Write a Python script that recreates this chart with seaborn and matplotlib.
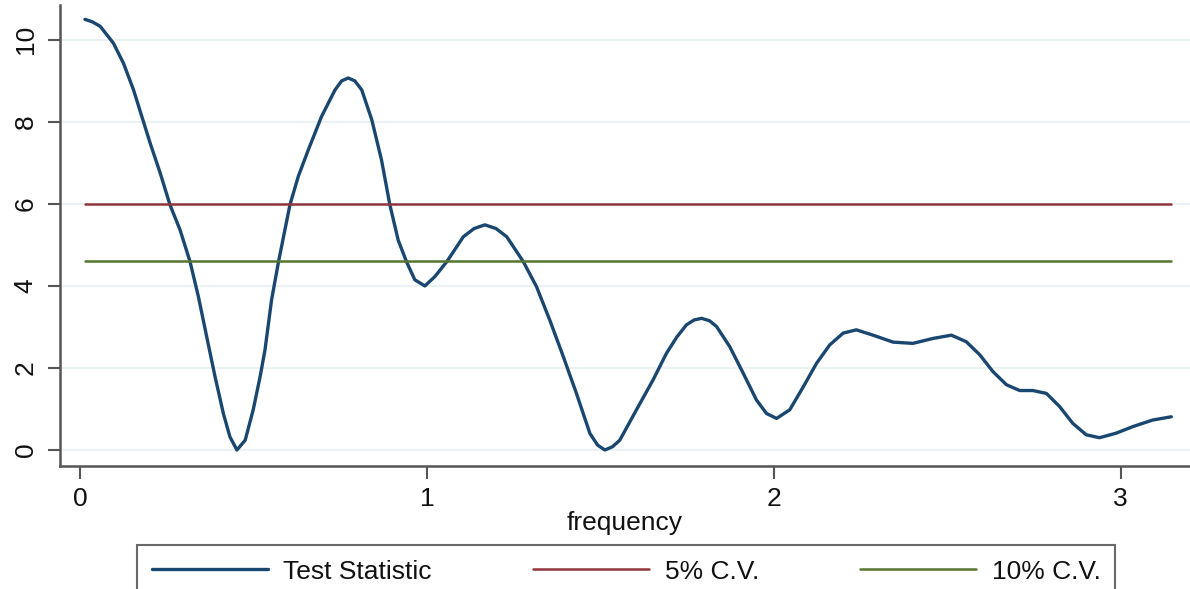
import numpy as np
import pandas as pd
import matplotlib
matplotlib.use("Agg")
import matplotlib.pyplot as plt
import seaborn as sns

frequency = [0.014, 0.035, 0.058, 0.096, 0.125, 0.154, 0.178, 0.202, 0.231, 0.259, 0.288,
             0.317, 0.341, 0.365, 0.389, 0.413, 0.432, 0.452, 0.476, 0.499, 0.519,
             0.533, 0.552, 0.572, 0.605, 0.629, 0.658, 0.696, 0.735, 0.754, 0.773, 0.792, 0.812,
             0.841, 0.869, 0.893, 0.917, 0.941, 0.965, 0.994, 1.023, 1.057, 1.105,
             1.136, 1.167, 1.199, 1.230, 1.278, 1.316, 1.354, 1.393, 1.431, 1.470, 1.492, 1.513,
             1.535, 1.556, 1.604, 1.652, 1.690, 1.720, 1.748, 1.770, 1.792, 1.815, 1.835, 1.873,
             1.912, 1.950, 1.979, 2.008, 2.046, 2.085, 2.123, 2.161, 2.200, 2.238, 2.286, 2.344,
             2.401, 2.459, 2.512, 2.555, 2.594, 2.632, 2.671, 2.709, 2.747, 2.786,
             2.824, 2.862, 2.901, 2.939, 2.987, 3.035, 3.092, 3.146]
test_statistic = [10.50, 10.44, 10.33, 9.92, 9.43, 8.78, 8.13, 7.48, 6.75, 5.98, 5.37,
                  4.59, 3.74, 2.76, 1.79, 0.89, 0.32, 0.00, 0.24, 0.98, 1.79,
                  2.44, 3.66, 4.59, 5.98, 6.67, 7.32, 8.13, 8.78, 9.00, 9.07, 9.00, 8.78,
                  8.05, 7.07, 5.98, 5.12, 4.59, 4.15, 4.00, 4.23, 4.59, 5.20,
                  5.40, 5.49, 5.40, 5.20, 4.59, 3.98, 3.17, 2.28, 1.38, 0.40, 0.12, 0.00,
                  0.08, 0.24, 0.98, 1.71, 2.35, 2.75, 3.05, 3.17, 3.21, 3.15, 3.01, 2.52,
                  1.87, 1.22, 0.89, 0.77, 0.98, 1.54, 2.11, 2.56, 2.85, 2.93, 2.80, 2.63,
                  2.60, 2.72, 2.80, 2.64, 2.32, 1.91, 1.59, 1.45, 1.45, 1.38,
                  1.06, 0.65, 0.37, 0.30, 0.41, 0.57, 0.73, 0.81]
cv_5 = 5.99
cv_10 = 4.61
series_labels = ["Test Statistic", "5% C.V.", "10% C.V."]
x_ticks = [0, 1, 2, 3]
y_ticks = [0, 2, 4, 6, 8, 10]

sns.set_theme(style="white")
plt.rcParams['font.family'] = ['Liberation Sans', 'DejaVu Sans']

df = pd.DataFrame({"frequency": frequency,
                   "ts": test_statistic,
                   "cv5": [cv_5] * len(frequency),
                   "cv10": [cv_10] * len(frequency)})

fig = plt.figure(figsize=(11.9, 5.89), dpi=100)
ax = fig.add_axes([60 / 1190, (589 - 466) / 589, (1190 - 60) / 1190, (466 - 5) / 589])

c_ts = "#1a476f"
c_5 = "#90353b"
c_10 = "#55752f"

sns.lineplot(data=df, x="frequency", y="ts", ax=ax, color=c_ts, lw=2.4,
             label=series_labels[0], solid_joinstyle="round")
sns.lineplot(data=df, x="frequency", y="cv5", ax=ax, color=c_5, lw=1.8, label=series_labels[1])
sns.lineplot(data=df, x="frequency", y="cv10", ax=ax, color=c_10, lw=1.8, label=series_labels[2])

ax.set_xlim(-0.058, 3.20)
ax.set_ylim(-0.39, 10.85)
ax.set_xticks(x_ticks)
ax.set_yticks(y_ticks)
ax.yaxis.grid(True, color="#eaf2f3", lw=1.5)
ax.xaxis.grid(False)
ax.set_axisbelow(True)

for s in ["top", "right"]:
    ax.spines[s].set_visible(False)
for s in ["left", "bottom"]:
    ax.spines[s].set_color("#555555")
    ax.spines[s].set_linewidth(1.8)

fs = 19
ax.tick_params(axis="both", direction="out", length=9, width=1.5, color="#555555",
               labelsize=fs, labelcolor="#111111", left=True, bottom=True)
ax.tick_params(axis="y", pad=7)
ax.tick_params(axis="x", pad=6)
for lab in ax.get_yticklabels():
    lab.set_rotation(90)
    lab.set_va("center")

ax.set_xlabel("frequency", fontsize=fs, color="#111111", labelpad=0)
ax.set_ylabel("")

handles, labels = ax.get_legend_handles_labels()
ax.get_legend().remove()
leg = fig.legend(handles, labels, loc="upper left", mode="expand",
                 bbox_to_anchor=(137 / 1190, 0, 978 / 1190, 1 - 545 / 589), borderaxespad=0,
                 ncol=3, fontsize=fs, handlelength=4.4, handletextpad=0.6,
                 columnspacing=3.0, borderpad=0.55, fancybox=False, frameon=True)
leg.get_frame().set_edgecolor("#444444")
leg.get_frame().set_linewidth(1.5)
for t in leg.get_texts():
    t.set_color("#111111")

fig.savefig("out.png", dpi=100)
